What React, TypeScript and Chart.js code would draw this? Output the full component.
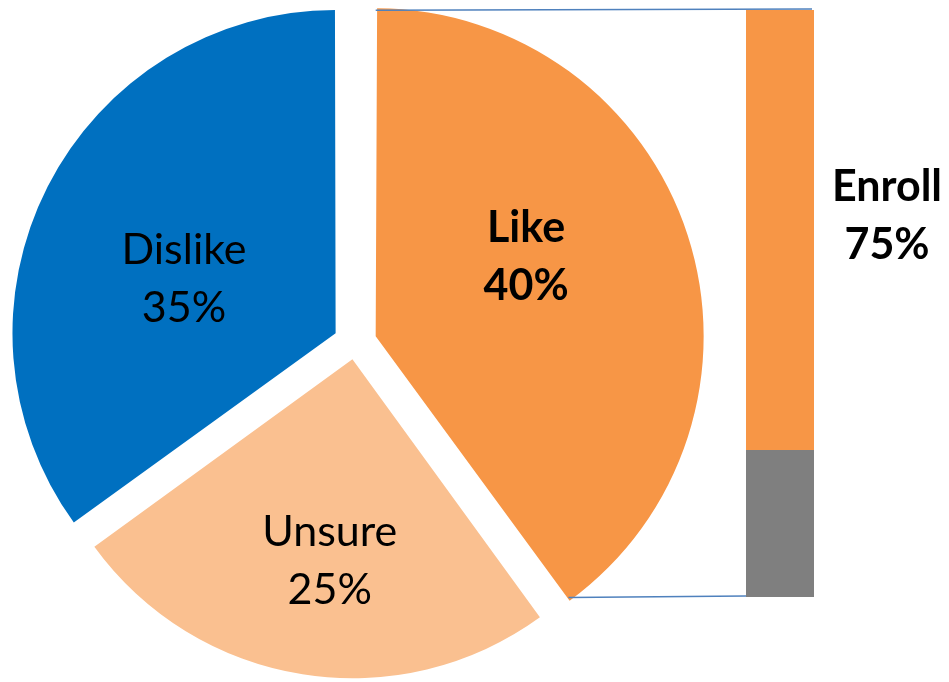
import React, { useEffect, useRef } from "react";
import { Chart, registerables } from "chart.js";

Chart.register(...registerables);

// ---- Data ----
const sliceLabels = ["Like", "Unsure", "Dislike"];
const sliceValues = [40, 25, 35];
const sliceColors = ["#F79646", "#FAC090", "#0070C0"];
const sliceBold = [true, false, false];
const sliceOffsets = [87, 66, 87];
const labelAngleShift = [-5.5, -3, -12.3];
const labelRadiusFrac = [0.5, 0.68, 0.485];

const barCategories = ["Like"];
const barSeriesNames = ["Other", "Enroll"];
const otherValues = [25];
const enrollValues = [75];
const barColors = ["#7F7F7F", "#F79646"];
const barLabelShown = [false, true];

const FONT_FAMILY = "Lato, 'Open Sans', sans-serif";
const FONT_SIZE = 43;
const LINE_GAP = 58;

export default function App() {
  const pieRef = useRef<HTMLCanvasElement | null>(null);
  const barRef = useRef<HTMLCanvasElement | null>(null);

  useEffect(() => {
    if (!pieRef.current || !barRef.current) return;
    let alive = true;
    const total = sliceValues.reduce((a, b) => a + b, 0);

    const pieLabelPlugin = {
      id: "pieLabels",
      afterDatasetsDraw(chart: any) {
        const ctx = chart.ctx;
        const meta = chart.getDatasetMeta(0);
        meta.data.forEach((arc: any, i: number) => {
          const p = arc.getProps(["x", "y", "startAngle", "endAngle", "outerRadius"], true);
          const t = (arc.options.offset || 0) / 4;
          const mid = (p.startAngle + p.endAngle) / 2;
          const circ = p.endAngle - p.startAngle;
          const fix = 1 - Math.sin(Math.min(Math.PI, circ));
          const r = p.outerRadius + t * fix;
          const vx = p.x + Math.cos(mid) * t;
          const vy = p.y + Math.sin(mid) * t;
          const a = mid + (labelAngleShift[i] * Math.PI) / 180;
          const lx = vx + Math.cos(a) * r * labelRadiusFrac[i];
          const ly = vy + Math.sin(a) * r * labelRadiusFrac[i];
          ctx.save();
          ctx.fillStyle = "#000000";
          ctx.font = `${sliceBold[i] ? "bold " : ""}${FONT_SIZE}px ${FONT_FAMILY}`;
          ctx.textAlign = "center";
          ctx.textBaseline = "alphabetic";
          const pct = Math.round((sliceValues[i] / total) * 100) + "%";
          ctx.fillText(sliceLabels[i], lx, ly - LINE_GAP / 2);
          ctx.fillText(pct, lx, ly + LINE_GAP / 2);
          ctx.restore();
        });
      },
    };

    const pie = new Chart(pieRef.current, {
      type: "pie",
      data: {
        labels: sliceLabels,
        datasets: [
          {
            data: sliceValues,
            backgroundColor: sliceColors,
            borderWidth: 0,
            offset: sliceOffsets,
            hoverOffset: 0,
          } as any,
        ],
      },
      options: {
        animation: false,
        responsive: false,
        events: [],
        radius: 319,
        layout: { padding: { left: 0, right: 239, top: 4, bottom: 0 } },
        plugins: { legend: { display: false }, tooltip: { enabled: false } },
      } as any,
      plugins: [pieLabelPlugin],
    });

    const barTotal = otherValues[0] + enrollValues[0];

    const connectorPlugin = {
      id: "connectors",
      beforeDatasetsDraw(chart: any) {
        const arc: any = pie.getDatasetMeta(0).data[0];
        if (!arc) return;
        const p = arc.getProps(["x", "y", "startAngle", "endAngle", "outerRadius"], true);
        const t = (arc.options.offset || 0) / 4;
        const mid = (p.startAngle + p.endAngle) / 2;
        const circ = p.endAngle - p.startAngle;
        const fix = 1 - Math.sin(Math.min(Math.PI, circ));
        const r = p.outerRadius + t * fix;
        const vx = p.x + Math.cos(mid) * t;
        const vy = p.y + Math.sin(mid) * t;
        const sx = vx + Math.cos(p.startAngle) * r;
        const sy = vy + Math.sin(p.startAngle) * r;
        const ex = vx + Math.cos(p.endAngle) * r;
        const ey = vy + Math.sin(p.endAngle) * r;
        const metaTop = chart.getDatasetMeta(1).data[0];
        const metaBot = chart.getDatasetMeta(0).data[0];
        const bt = metaTop.getProps(["x", "y", "width"], true);
        const bb = metaBot.getProps(["x", "base", "width"], true);
        const ctx = chart.ctx;
        ctx.save();
        ctx.strokeStyle = "#4F81BD";
        ctx.lineWidth = 1.5;
        ctx.beginPath();
        ctx.moveTo(sx, sy + 2);
        ctx.lineTo(bt.x + bt.width / 2 - 2, bt.y - 1);
        ctx.moveTo(ex, ey - 4);
        ctx.lineTo(bb.x - bb.width / 2, bb.base - 1);
        ctx.stroke();
        ctx.restore();
      },
      afterDatasetsDraw(chart: any) {
        const ctx = chart.ctx;
        chart.data.datasets.forEach((ds: any, di: number) => {
          if (!barLabelShown[di]) return;
          const el = chart.getDatasetMeta(di).data[0];
          const b = el.getProps(["x", "y", "base", "width"], true);
          const cx = b.x + b.width / 2 + 73;
          const cy = (b.y + b.base) / 2;
          ctx.save();
          ctx.fillStyle = "#000000";
          ctx.font = `bold ${FONT_SIZE}px ${FONT_FAMILY}`;
          ctx.textAlign = "center";
          ctx.textBaseline = "alphabetic";
          const pct = Math.round((ds.data[0] / barTotal) * 100) + "%";
          ctx.fillText(barSeriesNames[di], cx, cy - LINE_GAP / 2);
          ctx.fillText(pct, cx, cy + LINE_GAP / 2);
          ctx.restore();
        });
      },
    };

    const bar = new Chart(barRef.current, {
      type: "bar",
      data: {
        labels: barCategories,
        datasets: [
          {
            label: barSeriesNames[0],
            data: otherValues,
            backgroundColor: barColors[0],
            borderWidth: 0,
            barPercentage: 1,
            categoryPercentage: 1,
          },
          {
            label: barSeriesNames[1],
            data: enrollValues,
            backgroundColor: barColors[1],
            borderWidth: 0,
            barPercentage: 1,
            categoryPercentage: 1,
          },
        ],
      },
      options: {
        animation: false,
        responsive: false,
        events: [],
        layout: { padding: { left: 746, right: 135, top: 10, bottom: 85 } },
        scales: {
          x: { display: false, stacked: true },
          y: { display: false, stacked: true, min: 0, max: 100 },
        },
        plugins: { legend: { display: false }, tooltip: { enabled: false } },
      } as any,
      plugins: [connectorPlugin],
    });

    const fonts: any = (document as any).fonts;
    if (fonts && fonts.load) {
      Promise.all([
        fonts.load(`${FONT_SIZE}px Lato`),
        fonts.load(`bold ${FONT_SIZE}px Lato`),
      ]).then(() => {
        if (!alive) return;
        pie.update();
        bar.update();
      }).catch(() => {});
    }

    return () => {
      alive = false;
      bar.destroy();
      pie.destroy();
    };
  }, []);

  return (
    <div
      style={{
        position: "fixed",
        left: 0,
        top: 0,
        width: 949,
        height: 682,
        background: "#ffffff",
        overflow: "hidden",
      }}
    >
      <canvas
        ref={pieRef}
        width={949}
        height={682}
        style={{ position: "absolute", left: 0, top: 0, width: 949, height: 682 }}
      />
      <canvas
        ref={barRef}
        width={949}
        height={682}
        style={{ position: "absolute", left: 0, top: 0, width: 949, height: 682 }}
      />
    </div>
  );
}
